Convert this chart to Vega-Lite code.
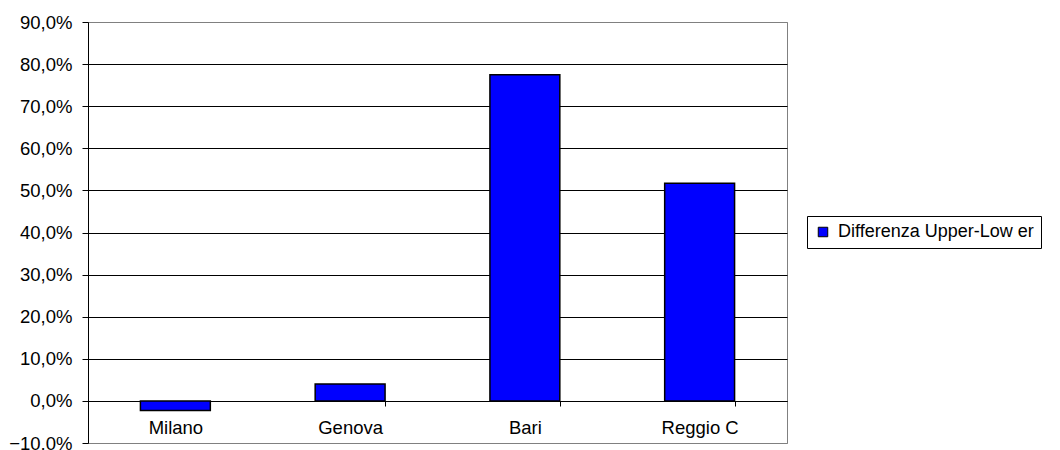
{
  "$schema": "https://vega.github.io/schema/vega-lite/v6.json",
  "width": 699,
  "height": 421,
  "autosize": {"type": "none"},
  "padding": {"left": 88, "top": 22, "right": 273, "bottom": 7},
  "background": "white",
  "config": {
    "font": "Liberation Sans",
    "view": {"stroke": "#808080", "strokeWidth": 1}
  },
  "data": {
    "values": [
      {"citta": "Milano", "serie": "Differenza Upper-Low er", "valore": -0.023},
      {"citta": "Genova", "serie": "Differenza Upper-Low er", "valore": 0.040},
      {"citta": "Bari", "serie": "Differenza Upper-Low er", "valore": 0.775},
      {"citta": "Reggio C", "serie": "Differenza Upper-Low er", "valore": 0.517}
    ]
  },
  "mark": {"type": "bar", "stroke": "black", "strokeWidth": 1.5},
  "encoding": {
    "x": {
      "field": "citta",
      "type": "nominal",
      "sort": null,
      "scale": {"paddingInner": 0.6, "paddingOuter": 0.3},
      "axis": {
        "title": null,
        "offset": -42,
        "labelAngle": 0,
        "labelFontSize": 18.5,
        "labelColor": "black",
        "labelPadding": 12,
        "domainColor": "black",
        "tickColor": "black",
        "tickSize": 5,
        "tickBand": "extent",
        "grid": false
      }
    },
    "y": {
      "field": "valore",
      "type": "quantitative",
      "scale": {"domain": [-0.1, 0.9], "nice": false, "zero": false},
      "axis": {
        "title": null,
        "values": [-0.1, 0, 0.1, 0.2, 0.3, 0.4, 0.5, 0.6, 0.7, 0.8, 0.9],
        "labelExpr": "replace(format(datum.value, '.1%'), '.', ',')",
        "labelFontSize": 18.5,
        "labelColor": "black",
        "labelPadding": 10,
        "tickSize": 6,
        "tickColor": "black",
        "domainColor": "black",
        "grid": true,
        "gridColor": {
          "condition": {"test": "datum.value >= 0.9 || datum.value <= -0.1", "value": "#808080"},
          "value": "black"
        },
        "gridOpacity": 1,
        "gridWidth": 1
      }
    },
    "color": {
      "field": "serie",
      "type": "nominal",
      "scale": {"range": ["#0000ff"]},
      "legend": {
        "title": null,
        "orient": "none",
        "legendX": 719,
        "legendY": 194,
        "padding": 7,
        "strokeColor": "black",
        "fillColor": "white",
        "symbolType": "square",
        "symbolSize": 90,
        "symbolStrokeColor": "black",
        "symbolStrokeWidth": 1,
        "symbolOpacity": 1,
        "labelFontSize": 18,
        "labelLimit": 0,
        "labelColor": "black",
        "labelOffset": 6
      }
    }
  }
}
